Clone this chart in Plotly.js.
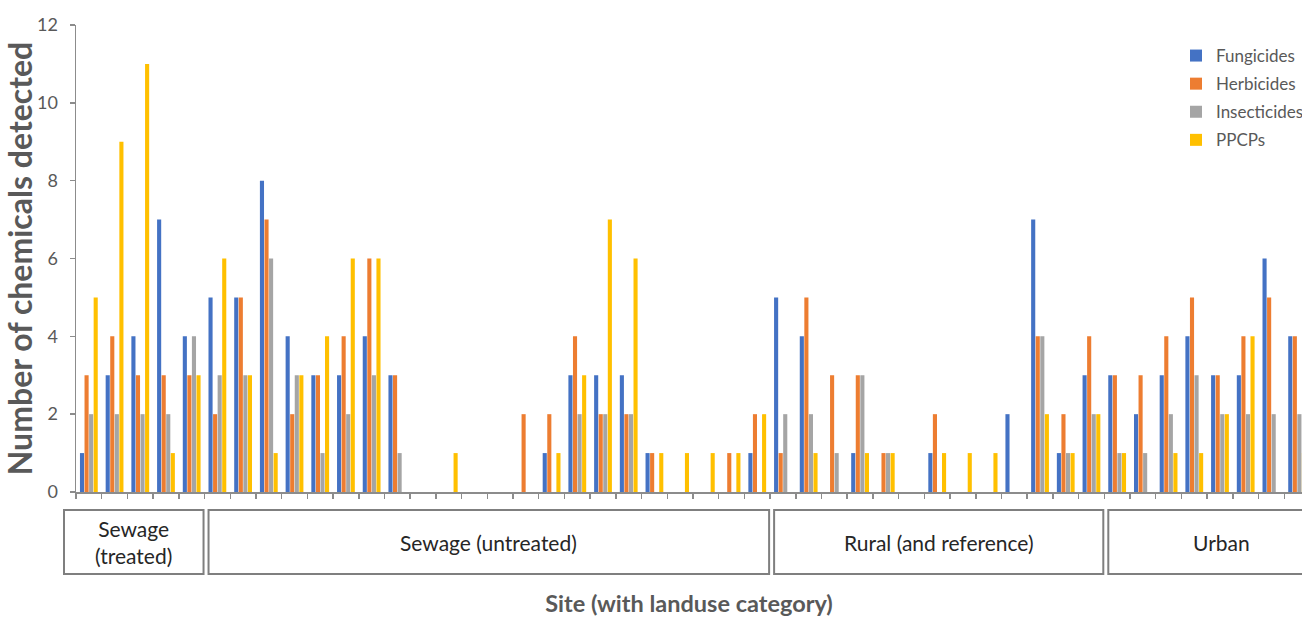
<!DOCTYPE html>
<html>
<head>
<meta charset="utf-8">
<script src="https://cdn.plot.ly/plotly-3.0.1.min.js"></script>
<style>html,body{margin:0;padding:0;background:#fff;}#chart{width:1302px;height:617px;}</style>
</head>
<body>
<div id="chart"></div>
<script>
// ---- Data ----
const sites = [1,2,3,4,5,6,7,8,9,10,11,12,13,14,15,16,17,18,19,20,21,22,23,24,25,26,27,28,29,30,31,32,33,34,35,36,37,38,39,40,41,42,43,44,45,46,47,48];
const fungicides   = [1,3,4,7,4, 5,5,8,4,3,3,4,3,0,0,0,0,0,1,3,3,3,1,0,0,0,1, 5,4,0,1,0,0,1,0,0,2,7,1,3, 3,2,3,4,3,3,6,4];
const herbicides   = [3,4,3,3,3, 2,5,7,2,3,4,6,3,0,0,0,0,2,2,4,2,2,1,0,0,1,2, 1,5,3,3,1,0,2,0,0,0,4,2,4, 3,3,4,5,3,4,5,4];
const insecticides = [2,2,2,2,4, 3,3,6,3,1,2,3,1,0,0,0,0,0,0,2,2,2,0,0,0,0,0, 2,2,1,3,1,0,0,0,0,0,4,1,2, 1,1,2,3,2,2,2,2];
const ppcps        = [5,9,11,1,3, 6,3,1,3,4,6,6,0,0,1,0,0,0,1,3,7,6,1,1,1,1,2, 0,1,0,1,1,0,1,1,1,0,2,1,2, 1,0,1,1,2,4,0,1];
const seriesNames  = ['Fungicides','Herbicides','Insecticides','PPCPs'];
const seriesColors = ['#4472C4','#ED7D31','#A5A5A5','#FFC000'];
const landuse = ['Sewage<br>(treated)','Sewage (untreated)','Rural (and reference)','Urban'];
const landuseSiteCounts = [5, 22, 13, 9];
const yTickVals = [0,2,4,6,8,10,12];

// ---- Layout constants ----
const W = 1302, H = 617;
const M = {l:76, r:0, t:25, b:125, autoexpand:false};
const plotW = W - M.l - M.r, plotH = H - M.t - M.b;
const xRange = [0.5, 48.19];
const FONT = 'Lato, "Open Sans", "DejaVu Sans", sans-serif';
const GRAY = '#595959';

const values = [fungicides, herbicides, insecticides, ppcps];
const traces = seriesNames.map((name, k) => ({
  type: 'bar', name: name, x: sites, y: values[k],
  marker: {color: seriesColors[k], line: {width: 0}},
  legendgroup: name, hoverinfo: 'x+y+name'
}));

// boundaries between sites, for the tick marks
const boundaries = [];
for (let i = 0; i <= sites.length; i++) boundaries.push(sites[0] - 0.5 + i);

const span = xRange[1] - xRange[0];
const toPaperX = v => (v - xRange[0]) / span;
const pyTop = -(510 - (M.t + plotH)) / plotH;
const pyBot = -(574 - (M.t + plotH)) / plotH;
const shapes = [], annotations = [];
let start = sites[0] - 0.5;
landuse.forEach((name, k) => {
  const end = start + landuseSiteCounts[k];
  const x0 = toPaperX(start) + (k === 0 ? -12 : 4) / plotW;
  const x1 = toPaperX(end) - 1 / plotW;
  shapes.push({type:'rect', xref:'paper', yref:'paper', x0:x0, x1:x1, y0:pyBot, y1:pyTop,
    line:{color:'#7f7f7f', width:2}, fillcolor:'#ffffff', layer:'above'});
  annotations.push({xref:'paper', yref:'paper', x:(x0+x1)/2, y:(pyTop+pyBot)/2,
    text:name, showarrow:false, xanchor:'center', yanchor:'middle',
    font:{family:FONT, size:21, color:'#262626'}});
  start = end;
});

const layout = {
  width: W, height: H,
  margin: M,
  paper_bgcolor: '#ffffff', plot_bgcolor: '#ffffff',
  font: {family: FONT, color: GRAY},
  barmode: 'group', bargap: 0.29, bargroupgap: 0.1,
  showlegend: true,
  legend: {x: (1176 - M.l) / plotW, y: (M.t + plotH - 38) / plotH, xanchor: 'left', yanchor: 'top',
    bgcolor: 'rgba(0,0,0,0)', font: {family: FONT, size: 17, color: GRAY}, tracegroupgap: 3},
  xaxis: {
    range: xRange, showgrid: false, zeroline: false,
    tickmode: 'array', tickvals: boundaries, showticklabels: false,
    ticks: 'outside', ticklen: 5, tickcolor: '#8c8c8c', tickwidth: 1.5,
    showline: true, linecolor: '#8c8c8c', linewidth: 1.5,
    title: {text: '<b>Site (with landuse category)</b>', standoff: 100,
      font: {family: FONT, size: 23.5, color: GRAY}}
  },
  yaxis: {
    range: [0, 12], showgrid: false, zeroline: false,
    tickmode: 'array', tickvals: yTickVals,
    ticks: 'outside', ticklen: 5, tickcolor: '#8c8c8c', tickwidth: 1.5,
    showline: true, linecolor: '#8c8c8c', linewidth: 1.5,
    ticklabelstandoff: 8,
    tickfont: {family: FONT, size: 18, color: GRAY},
    title: {text: '<b>Number of chemicals detected</b>', standoff: 6,
      font: {family: FONT, size: 32, color: GRAY}}
  },
  shapes: shapes,
  annotations: annotations
};

Plotly.newPlot('chart', traces, layout, {displayModeBar: false, staticPlot: true});
</script>
</body>
</html>
